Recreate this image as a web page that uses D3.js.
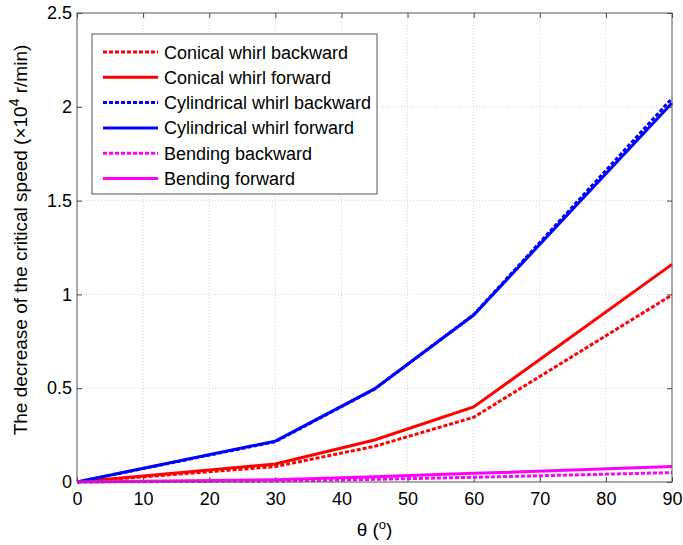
<!DOCTYPE html>
<html>
<head>
<meta charset="utf-8">
<script src="https://cdn.jsdelivr.net/npm/d3@7"></script>
<style>
  body { margin: 0; background: #fff; }
  svg { font-family: Arial, "Liberation Sans", sans-serif; }
</style>
</head>
<body>
<div id="chart"></div>
<script>
const angles = [0, 30, 45, 60, 90];
const conicalBackward = [0, 0.082, 0.19, 0.345, 0.997];
const conicalForward = [0, 0.096, 0.224, 0.40, 1.16];
const cylBackward = [0, 0.215, 0.495, 0.892, 2.045];
const cylForward = [0, 0.218, 0.496, 0.89, 2.02];
const bendBackward = [0, 0.005, 0.014, 0.025, 0.05];
const bendForward = [0, 0.012, 0.028, 0.046, 0.082];
const xTicks = [0, 10, 20, 30, 40, 50, 60, 70, 80, 90];
const yTicks = [0, 0.5, 1, 1.5, 2, 2.5];

const series = [
  { name: 'Conical whirl backward', values: conicalBackward, color: '#ff0000', dashed: true },
  { name: 'Conical whirl forward', values: conicalForward, color: '#ff0000', dashed: false },
  { name: 'Cylindrical whirl backward', values: cylBackward, color: '#0000ff', dashed: true },
  { name: 'Cylindrical whirl forward', values: cylForward, color: '#0000ff', dashed: false },
  { name: 'Bending backward', values: bendBackward, color: '#ff00ff', dashed: true },
  { name: 'Bending forward', values: bendForward, color: '#ff00ff', dashed: false }
];

const W = 683, H = 545;
const margin = { top: 13, right: 11, bottom: 63, left: 77 };
const width = W - margin.left - margin.right;
const height = H - margin.top - margin.bottom;

const svg = d3.select('#chart').append('svg')
  .attr('width', W).attr('height', H);
const g = svg.append('g').attr('transform', `translate(${margin.left},${margin.top})`);

const x = d3.scaleLinear().domain([0, 90]).range([0, width]);
const y = d3.scaleLinear().domain([0, 2.5]).range([height, 0]);

// grid
g.append('g').selectAll('line').data(xTicks.slice(1, -1)).enter().append('line')
  .attr('x1', d => x(d)).attr('x2', d => x(d)).attr('y1', 0).attr('y2', height)
  .attr('stroke', '#d4d4d4').attr('stroke-dasharray', '1,2');
g.append('g').selectAll('line').data(yTicks.slice(1, -1)).enter().append('line')
  .attr('y1', d => y(d)).attr('y2', d => y(d)).attr('x1', 0).attr('x2', width)
  .attr('stroke', '#d4d4d4').attr('stroke-dasharray', '1,2');

// axes (ticks inside, MATLAB style)
const fmt = d3.format('');
g.append('g').attr('transform', `translate(0,${height})`)
  .call(d3.axisBottom(x).tickValues(xTicks).tickSize(-5).tickPadding(10).tickFormat(fmt))
  .call(a => a.select('.domain').remove());
g.append('g')
  .call(d3.axisLeft(y).tickValues(yTicks).tickSize(-5).tickPadding(5).tickFormat(fmt))
  .call(a => a.select('.domain').remove());
g.append('g')
  .call(d3.axisTop(x).tickValues(xTicks).tickSize(-5).tickFormat(''))
  .call(a => a.select('.domain').remove());
g.append('g').attr('transform', `translate(${width},0)`)
  .call(d3.axisRight(y).tickValues(yTicks).tickSize(-5).tickFormat(''))
  .call(a => a.select('.domain').remove());
g.selectAll('.tick line').attr('stroke', '#444');
g.selectAll('.tick text').attr('font-size', 18).attr('fill', '#000')
  .style('font-family', 'Arial, "Liberation Sans", sans-serif');

// lines
const line = d3.line().x((d, i) => x(angles[i])).y(d => y(d));
series.forEach(s => {
  g.append('path').datum(s.values)
    .attr('fill', 'none')
    .attr('stroke', s.color)
    .attr('stroke-width', 3)
    .attr('stroke-dasharray', s.dashed ? '4,2' : null)
    .attr('d', line);
});

// frame
g.append('rect').attr('width', width).attr('height', height)
  .attr('fill', 'none').attr('stroke', '#555').attr('stroke-width', 1);

// legend
const legend = svg.append('g').attr('transform', 'translate(92,34)');
legend.append('rect').attr('width', 285).attr('height', 160)
  .attr('fill', '#fff').attr('stroke', '#555');
series.forEach((s, i) => {
  const yy = 18 + i * 25.3;
  legend.append('line').attr('x1', 11).attr('x2', 66).attr('y1', yy).attr('y2', yy)
    .attr('stroke', s.color).attr('stroke-width', 3)
    .attr('stroke-dasharray', s.dashed ? '4,2' : null);
  legend.append('text').attr('x', 72).attr('y', yy + 6.5)
    .attr('font-size', 18).text(s.name);
});

// axis labels
svg.append('text').attr('x', margin.left + width / 2).attr('y', 536)
  .attr('text-anchor', 'middle').attr('font-size', 19)
  .html('θ (<tspan baseline-shift="super" font-size="13">o</tspan>)');
svg.append('text')
  .attr('transform', 'translate(27,240) rotate(-90)')
  .attr('text-anchor', 'middle').attr('font-size', 19)
  .html('The decrease of the critical speed (×10<tspan baseline-shift="super" font-size="14">4</tspan> r/min)');
</script>
</body>
</html>
